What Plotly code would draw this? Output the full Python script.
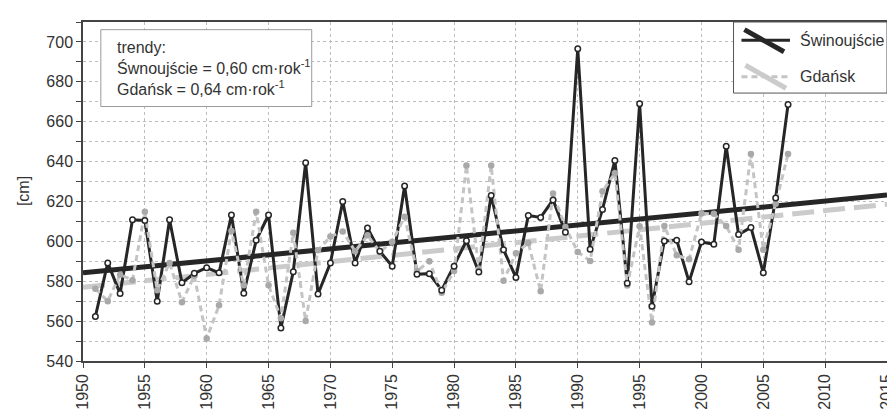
import plotly.graph_objects as go

years = list(range(1951, 2008))
swinoujscie = [562.3, 589.2, 573.8, 610.8, 610.5, 570.0, 610.8, 579.2, 584.0, 586.8,
               584.2, 613.2, 574.0, 600.5, 613.2, 556.6, 584.8, 639.4, 573.6, 589.1,
               620.0, 589.1, 606.7, 595.0, 587.5, 627.8, 583.5, 583.8, 575.5, 587.5,
               600.3, 584.6, 623.0, 595.8, 581.9, 613.0, 612.0, 620.8, 604.6, 696.6,
               596.0, 616.0, 640.6, 579.0, 669.0, 567.5, 600.2, 600.6, 579.7, 599.7,
               598.6, 647.7, 603.4, 607.0, 584.2, 621.8, 668.6]
gdansk = [576.2, 570.0, 583.3, 580.5, 614.8, 575.5, 589.2, 569.5, 582.8, 551.3,
          567.9, 605.2, 578.0, 614.8, 578.0, 561.5, 604.3, 560.0, 595.5, 602.4,
          605.0, 595.0, 603.0, 594.7, 599.8, 612.3, 585.1, 590.0, 574.2, 585.1,
          638.0, 586.0, 638.0, 580.3, 594.0, 599.2, 575.0, 624.0, 607.2, 594.7,
          590.2, 625.1, 634.2, 577.9, 607.6, 559.3, 607.7, 593.0, 591.0, 614.0,
          613.8, 607.7, 595.8, 643.8, 595.8, 618.9, 643.8]

trend_years = [1950, 2015]
swi_trend_start, swi_slope = 584.2, 0.60
gda_trend_start, gda_slope = 577.0, 0.64
swi_trend = [swi_trend_start + swi_slope * (y - 1950) for y in trend_years]
gda_trend = [gda_trend_start + gda_slope * (y - 1950) for y in trend_years]

x_ticks = list(range(1950, 2016, 5))
legend_names = ["Świnoujście", "Gdańsk"]
box_lines = ["trendy:", "Śwnoujście = 0,60 cm·rok<sup>-1</sup>", "Gdańsk = 0,64 cm·rok<sup>-1</sup>"]

FONT = "Liberation Sans, Arial, sans-serif"
DARK = "#262626"
LGRAY = "#c4c4c4"

W, H = 895, 410
ML, MR, MT, MB = 75, 8, 14, 43
PW, PH = W - ML - MR, H - MT - MB


def px(xp):
    return (xp - ML) / PW


def py(yp):
    return (H - MB - yp) / PH


fig = go.Figure()
fig.add_trace(go.Scatter(x=trend_years, y=gda_trend, mode="lines",
                         line=dict(color="#cbcbcb", width=5, dash="22px,9px"), showlegend=False))
fig.add_trace(go.Scatter(x=trend_years, y=swi_trend, mode="lines",
                         line=dict(color=DARK, width=5), showlegend=False))
fig.add_trace(go.Scatter(x=years, y=swinoujscie, mode="lines",
                         line=dict(color=DARK, width=3), showlegend=False))
fig.add_trace(go.Scatter(x=years, y=gdansk, mode="lines+markers",
                         line=dict(color=LGRAY, width=3, dash="6px,4px"),
                         marker=dict(color="#a9a9a9", size=6.5), showlegend=False))
fig.add_trace(go.Scatter(x=years, y=swinoujscie, mode="markers",
                         marker=dict(color="white", size=5.5, line=dict(color=DARK, width=1.5)),
                         showlegend=False))

shapes = []
# text box
shapes.append(dict(type="rect", xref="paper", yref="paper",
                   x0=px(93), x1=px(306), y0=py(102), y1=py(22),
                   line=dict(color="#9a9a9a", width=1), fillcolor="white", layer="above"))
# legend box
shapes.append(dict(type="rect", xref="paper", yref="paper",
                   x0=px(732), x1=px(887), y0=py(88), y1=py(14),
                   line=dict(color="#555555", width=1), fillcolor="white", layer="above"))
shapes.append(dict(type="line", xref="paper", yref="paper",
                   x0=px(740), x1=px(789), y0=py(33), y1=py(33),
                   line=dict(color=DARK, width=3), layer="above"))
shapes.append(dict(type="line", xref="paper", yref="paper",
                   x0=px(743), x1=px(783), y0=py(22), y1=py(45),
                   line=dict(color=DARK, width=5), layer="above"))
shapes.append(dict(type="line", xref="paper", yref="paper",
                   x0=px(740), x1=px(789), y0=py(71), y1=py(71),
                   line=dict(color=LGRAY, width=3, dash="6px,4px"), layer="above"))
shapes.append(dict(type="line", xref="paper", yref="paper",
                   x0=px(744), x1=px(785), y0=py(59), y1=py(83),
                   line=dict(color="#cbcbcb", width=5), layer="above"))

annotations = [
    dict(text="<br>".join(box_lines), xref="paper", yref="paper", x=px(107), y=py(62),
         xanchor="left", yanchor="middle", align="left", showarrow=False,
         font=dict(family=FONT, size=16, color="#333333")),
    dict(text=legend_names[0], xref="paper", yref="paper", x=px(797), y=py(33),
         xanchor="left", yanchor="middle", showarrow=False,
         font=dict(family=FONT, size=16, color="#333333")),
    dict(text=legend_names[1], xref="paper", yref="paper", x=px(797), y=py(71),
         xanchor="left", yanchor="middle", showarrow=False,
         font=dict(family=FONT, size=16, color="#333333")),
    dict(text="[cm]", xref="paper", yref="paper", x=px(15), y=0.5, textangle=-90,
         xanchor="center", yanchor="middle", showarrow=False,
         font=dict(family=FONT, size=16, color="#333333")),
]

fig.update_layout(
    width=W, height=H,
    margin=dict(l=ML, r=MR, t=MT, b=MB),
    paper_bgcolor="white", plot_bgcolor="white",
    font=dict(family=FONT, size=16, color="#333333"),
    shapes=shapes, annotations=annotations, showlegend=False,
)
fig.update_xaxes(range=[1950, 2015], tickmode="array", tickvals=x_ticks,
                 ticktext=[str(t) for t in x_ticks], tickangle=-90,
                 showline=True, linecolor="#444444", linewidth=1.5, mirror=True,
                 ticks="outside", ticklen=5, tickcolor="#444444",
                 showgrid=True, gridcolor="#bdbdbd", griddash="dot", gridwidth=1,
                 zeroline=False, tickfont=dict(size=16))
fig.update_yaxes(range=[540, 710], tick0=540, dtick=20,
                 showline=True, linecolor="#444444", linewidth=1.5, mirror=True,
                 ticks="outside", ticklen=5, tickcolor="#444444",
                 showgrid=True, gridcolor="#bdbdbd", griddash="dot", gridwidth=1,
                 minor=dict(dtick=10, ticks="outside", ticklen=5, tickcolor="#444444",
                            showgrid=True, gridcolor="#bdbdbd", griddash="dot"),
                 zeroline=False, tickfont=dict(size=16))

fig.write_html("out.html")
